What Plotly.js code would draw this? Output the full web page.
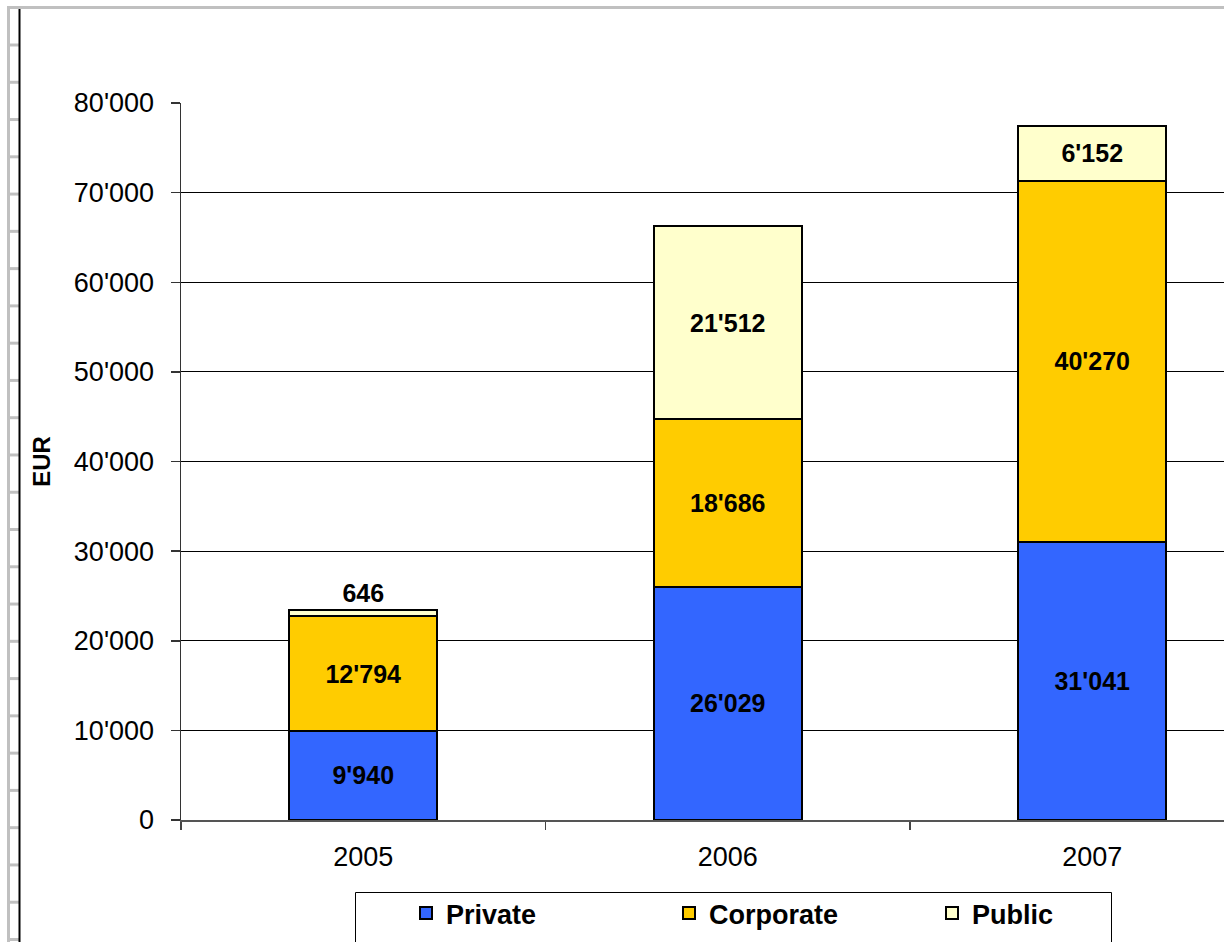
<!DOCTYPE html>
<html>
<head>
<meta charset="utf-8">
<script src="https://cdn.plot.ly/plotly-3.0.1.min.js"></script>
<style>
  html, body { margin: 0; padding: 0; background: #ffffff; overflow: hidden; }
  #chart { width: 1224px; height: 942px; }
</style>
</head>
<body>
<div id="chart"></div>
<script>
// ---- data ----
const years = ['2005', '2006', '2007'];
const privateVals = [9940, 26029, 31041];
const corporateVals = [12794, 18686, 40270];
const publicVals = [646, 21512, 6152];
const seriesNames = ['Private', 'Corporate', 'Public'];
const yTickVals = [0, 10000, 20000, 30000, 40000, 50000, 60000, 70000, 80000];

// ---- layout geometry (pixels) ----
const W = 1224, H = 942;
const ML = 181, MR = 0, MT = 103, MB = 122;
const PW = W - ML - MR, PH = H - MT - MB;
const px = v => (v - ML) / PW;          // pixel x -> paper x
const py = v => (H - MB - v) / PH;      // pixel y -> paper y

const FONT = 'Arial, "Liberation Sans", sans-serif';
const labelFont = { family: FONT, size: 25, color: '#000000', weight: 'bold' };

function barTrace(name, vals, color, positions) {
  return {
    type: 'bar',
    name: name,
    x: years,
    y: vals,
    marker: { color: color, line: { color: '#000000', width: 2 } },
    texttemplate: '%{y:,.0f}',
    textposition: positions,
    insidetextanchor: 'middle',
    constraintext: 'none',
    cliponaxis: false,
    textfont: labelFont,
    insidetextfont: labelFont,
    outsidetextfont: labelFont,
    hoverinfo: 'skip'
  };
}

const traces = [
  barTrace(seriesNames[0], privateVals, '#3366FF', ['inside', 'inside', 'inside']),
  barTrace(seriesNames[1], corporateVals, '#FFCC00', ['inside', 'inside', 'inside']),
  barTrace(seriesNames[2], publicVals, '#FFFFCC', ['outside', 'inside', 'inside'])
];

// ---- frame decorations ----
const gray = '#C0C0C0';
const shapes = [];
shapes.push({ type: 'line', xref: 'paper', yref: 'paper', x0: px(8.5), x1: px(8.5), y0: py(6), y1: py(950), line: { color: gray, width: 3 } });
shapes.push({ type: 'line', xref: 'paper', yref: 'paper', x0: px(7), x1: px(1230), y0: py(7.5), y1: py(7.5), line: { color: gray, width: 3 } });
for (let k = 0; k < 25; k++) {
  const yy = 45 + 37.27 * k;
  shapes.push({ type: 'line', xref: 'paper', yref: 'paper', x0: px(10), x1: px(19), y0: py(yy), y1: py(yy), line: { color: gray, width: 3 } });
}
shapes.push({ type: 'line', xref: 'paper', yref: 'paper', x0: px(19.5), x1: px(19.5), y0: py(9), y1: py(950), line: { color: '#000000', width: 2 } });
// legend frame
shapes.push({ type: 'rect', xref: 'paper', yref: 'paper', x0: px(355.5), x1: px(1111.5), y0: py(892.5), y1: py(960), line: { color: '#000000', width: 1 }, fillcolor: 'rgba(0,0,0,0)' });

const layout = {
  width: W, height: H,
  margin: { l: ML, r: MR, t: MT, b: MB, pad: 0 },
  paper_bgcolor: '#ffffff',
  plot_bgcolor: '#ffffff',
  separators: ".'",
  barmode: 'stack',
  bargap: 0.594,
  showlegend: true,
  legend: {
    orientation: 'h',
    x: px(406), xanchor: 'left',
    y: py(889), yanchor: 'top',
    traceorder: 'normal',
    entrywidth: 218, entrywidthmode: 'pixels',
    font: { family: FONT, size: 27, color: '#000000', weight: 'bold' },
    bgcolor: 'rgba(0,0,0,0)',
    borderwidth: 0
  },
  xaxis: {
    type: 'category',
    range: [-0.5, -0.5 + PW / 364.5],
    showgrid: false,
    zeroline: false,
    showline: true,
    linecolor: '#555555',
    linewidth: 2,
    ticks: 'outside',
    tickson: 'boundaries',
    ticklen: 8,
    tickwidth: 1.5,
    tickcolor: '#444444',
    ticklabelstandoff: 12,
    tickfont: { family: FONT, size: 27, color: '#000000' },
    fixedrange: true
  },
  yaxis: {
    range: [0, 80000],
    tickvals: yTickVals,
    tickformat: ',',
    showgrid: true,
    gridcolor: '#000000',
    gridwidth: 1,
    zeroline: false,
    showline: true,
    linecolor: '#333333',
    linewidth: 1.5,
    ticks: 'outside',
    ticklen: 9,
    tickwidth: 1.5,
    tickcolor: '#333333',
    ticklabelstandoff: 11,
    tickfont: { family: FONT, size: 27, color: '#000000' },
    title: { text: 'EUR', font: { family: FONT, size: 24, color: '#000000', weight: 'bold' }, standoff: 16 },
    fixedrange: true
  },
  shapes: shapes
};

Plotly.newPlot('chart', traces, layout, { displayModeBar: false, staticPlot: true });
</script>
</body>
</html>
